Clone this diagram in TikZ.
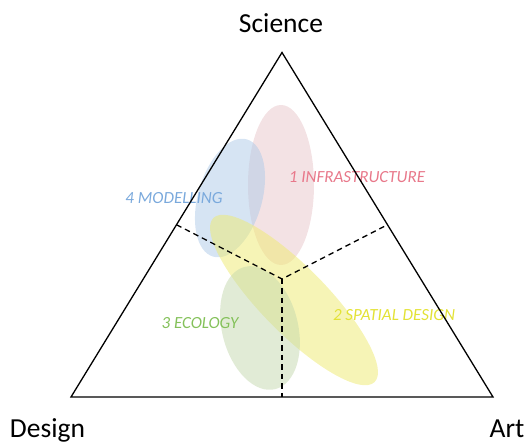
\documentclass[tikz,border=0pt]{standalone}
\usepackage{fontspec}
\setmainfont{Carlito}
\usetikzlibrary{calc}
\definecolor{pinkfill}{HTML}{E8C6CA}
\definecolor{bluefill}{HTML}{ADC9E8}
\definecolor{yellowfill}{HTML}{EEEA6E}
\definecolor{greenfill}{HTML}{C4D8AE}
\definecolor{pinktext}{HTML}{E8788A}
\definecolor{bluetext}{HTML}{7AA9DC}
\definecolor{greentext}{HTML}{84C15A}
\definecolor{yellowtext}{HTML}{E3E236}
\tikzset{
  blob/.style={fill opacity=0.5, draw=none},
  corner/.style={font=\fontsize{27.5}{32}\selectfont, text=black, inner sep=0pt, anchor=base},
  area/.style={font=\fontsize{17}{20}\selectfont\itshape, inner sep=0pt},
  edge/.style={line width=1.3pt, line join=miter},
  divider/.style={line width=1.3pt, dash pattern=on 5.5pt off 4pt}
}
\begin{document}
\begin{tikzpicture}[x=1pt,y=1pt]
\useasboundingbox (0,0) rectangle (531,444);
% ellipses
\fill[pinkfill, blob] (281,259) ellipse [x radius=33, y radius=80];
\fill[bluefill, blob, rotate around={-16:(230,246)}] (230,246) ellipse [x radius=32, y radius=61];
\fill[yellowfill, blob, rotate around={-45.5:(294,144)}] (294,144) ellipse [x radius=115, y radius=33];
\fill[greenfill, blob, rotate around={14:(260,116)}] (260,116) ellipse [x radius=38, y radius=63];
% labels
\node[area, text=pinktext] (infra) at (357,267) {1 INFRASTRUCTURE};
\node[area, text=bluetext] (model) at (174,246) {4 MODELLING};
\node[area, text=greentext] (eco) at (200,121) {3 ECOLOGY};
\node[area, text=yellowtext] (spatial) at (394,129) {2 SPATIAL DESIGN};
% triangle
\coordinate (A) at (282,391.5);
\coordinate (B) at (71,47);
\coordinate (C) at (493,47);
\coordinate (O) at (282,165);
\coordinate (L) at ($(A)!0.5!(B)$);
\coordinate (R) at ($(A)!0.5!(C)$);
\coordinate (M) at ($(B)!0.5!(C)$);
\draw[edge] (A) -- (B) -- (C) -- cycle;
\draw[divider] (L) -- (O) -- (R);
\draw[divider] (O) -- (M);
% corner labels
\node[corner] (sci) at (281,411) {Science};
\node[corner] (des) at (47.5,6) {Design};
\node[corner] (art) at (507,6) {Art};
\end{tikzpicture}
\end{document}
